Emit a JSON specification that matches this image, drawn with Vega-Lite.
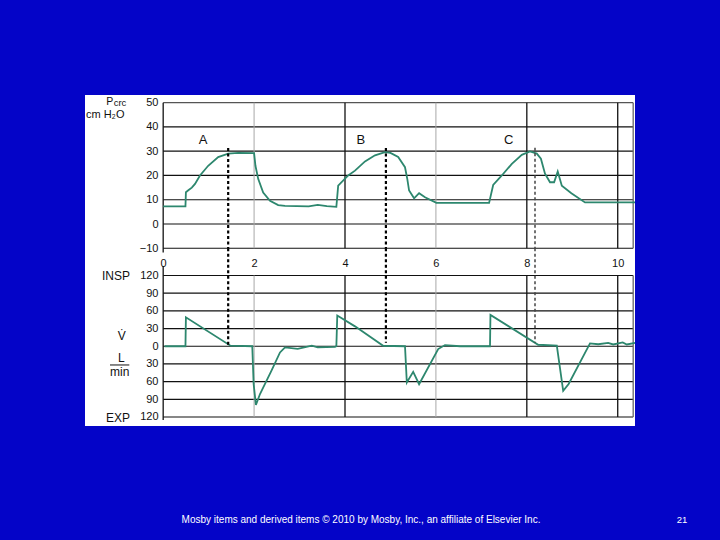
{
  "$schema": "https://vega.github.io/schema/vega-lite/v6.json",
  "width": 550,
  "height": 331,
  "autosize": {"type": "none"},
  "padding": {"left": 85, "top": 95, "right": 85, "bottom": 114},
  "background": "#0404c8",
  "config": {
    "view": {"fill": "white", "stroke": null},
    "font": "Liberation Sans",
    "text": {"font": "Liberation Sans"}
  },
  "datasets": {
    "pGridH": [
      {"t": 0, "t2": 10.34, "v": 50}, {"t": 0, "t2": 10.34, "v": 40}, {"t": 0, "t2": 10.34, "v": 30},
      {"t": 0, "t2": 10.34, "v": 20}, {"t": 0, "t2": 10.34, "v": 10}, {"t": 0, "t2": 10.34, "v": 0},
      {"t": 0, "t2": 10.34, "v": -10}
    ],
    "pGridV": [
      {"t": 0, "v": -11.7, "v2": 50}, {"t": 2, "v": -10, "v2": 50}, {"t": 4, "v": -10, "v2": 50},
      {"t": 6, "v": -10, "v2": 50}, {"t": 8, "v": -10, "v2": 50}, {"t": 10, "v": -10, "v2": 50},
      {"t": 10.34, "v": -10, "v2": 50}
    ],
    "pressure": [
      {"t": 0, "v": 7.3}, {"t": 0.49, "v": 7.3}, {"t": 0.5, "v": 13.1}, {"t": 0.56, "v": 14},
      {"t": 0.63, "v": 15}, {"t": 0.7, "v": 16.5}, {"t": 0.81, "v": 20}, {"t": 0.99, "v": 24},
      {"t": 1.21, "v": 27.6}, {"t": 1.43, "v": 29}, {"t": 1.65, "v": 29.3}, {"t": 2.0, "v": 29.2},
      {"t": 2.03, "v": 24}, {"t": 2.09, "v": 18.6}, {"t": 2.2, "v": 13}, {"t": 2.35, "v": 9.6},
      {"t": 2.53, "v": 7.8}, {"t": 2.68, "v": 7.5}, {"t": 3.2, "v": 7.3}, {"t": 3.4, "v": 7.9},
      {"t": 3.6, "v": 7.4}, {"t": 3.81, "v": 7.1}, {"t": 3.85, "v": 15.8}, {"t": 4.07, "v": 20},
      {"t": 4.22, "v": 22}, {"t": 4.44, "v": 25.8}, {"t": 4.66, "v": 28.3}, {"t": 4.88, "v": 29.6},
      {"t": 5.0, "v": 29.3}, {"t": 5.17, "v": 27.6}, {"t": 5.32, "v": 23.4}, {"t": 5.37, "v": 18.6},
      {"t": 5.41, "v": 13.8}, {"t": 5.52, "v": 10.6}, {"t": 5.63, "v": 12.7}, {"t": 5.76, "v": 11},
      {"t": 6.01, "v": 8.7}, {"t": 7.17, "v": 8.7}, {"t": 7.26, "v": 16.1}, {"t": 7.45, "v": 20},
      {"t": 7.67, "v": 24.8}, {"t": 7.89, "v": 28.5}, {"t": 8.07, "v": 29.9}, {"t": 8.22, "v": 29},
      {"t": 8.31, "v": 26.9}, {"t": 8.4, "v": 20.7}, {"t": 8.51, "v": 17.2}, {"t": 8.6, "v": 17.2},
      {"t": 8.68, "v": 21.6}, {"t": 8.77, "v": 15.8}, {"t": 8.98, "v": 12.7}, {"t": 9.28, "v": 8.9},
      {"t": 10.38, "v": 8.9}
    ],
    "pDash": [
      {"t": 1.43, "v": 31.3, "v2": -10}, {"t": 4.9, "v": 31.3, "v2": -10}, {"t": 8.18, "v": 31.4, "v2": -10}
    ],
    "letters": [
      {"t": 0.876, "v": 32.8, "label": "A"}, {"t": 4.35, "v": 32.8, "label": "B"}, {"t": 7.6, "v": 32.8, "label": "C"}
    ],
    "pLabel": [{"t": -1.25, "v": 49.2, "label": "P"}],
    "pSub": [{"t": -1.09, "v": 48.6, "label": "crc"}],
    "pUnit": [{"t": -1.699, "v": 43.5, "label": "cm H₂O"}],
    "footer": [
      {"t": 4.352, "v": -123.3, "label": "Mosby items and derived items © 2010 by Mosby, Inc., an affiliate of Elsevier Inc."}
    ],
    "pageNo": [
      {"t": 11.415, "v": -123.3, "label": "21"}
    ],
    "fGridH": [
      {"t": 0, "t2": 10.34, "v": 120}, {"t": 0, "t2": 10.34, "v": 90}, {"t": 0, "t2": 10.34, "v": 60},
      {"t": 0, "t2": 10.34, "v": 30}, {"t": 0, "t2": 10.34, "v": 0}, {"t": 0, "t2": 10.34, "v": -30},
      {"t": 0, "t2": 10.34, "v": -60}, {"t": 0, "t2": 10.34, "v": -90}, {"t": 0, "t2": 10.34, "v": -120}
    ],
    "fGridV": [
      {"t": 0, "v": -125, "v2": 136}, {"t": 2, "v": -120, "v2": 120}, {"t": 4, "v": -120, "v2": 120},
      {"t": 6, "v": -120, "v2": 120}, {"t": 8, "v": -120, "v2": 120}, {"t": 10, "v": -120, "v2": 120},
      {"t": 10.34, "v": -120, "v2": 120}
    ],
    "flow": [
      {"t": 0.03, "v": 0}, {"t": 0.49, "v": 0}, {"t": 0.5, "v": 49}, {"t": 1.48, "v": 1},
      {"t": 1.96, "v": 0}, {"t": 1.99, "v": -64}, {"t": 2.04, "v": -99.6}, {"t": 2.13, "v": -81},
      {"t": 2.38, "v": -41.7}, {"t": 2.57, "v": -10.5}, {"t": 2.68, "v": -2}, {"t": 2.96, "v": -4.6},
      {"t": 3.27, "v": 1}, {"t": 3.4, "v": -2}, {"t": 3.78, "v": -1}, {"t": 3.81, "v": 0},
      {"t": 3.83, "v": 52}, {"t": 4.22, "v": 33.7}, {"t": 4.84, "v": 0.8}, {"t": 5.32, "v": 0},
      {"t": 5.36, "v": -61.6}, {"t": 5.5, "v": -43.4}, {"t": 5.63, "v": -64.4}, {"t": 6.05, "v": -4.8},
      {"t": 6.2, "v": 2}, {"t": 6.53, "v": 0}, {"t": 7.19, "v": 0}, {"t": 7.2, "v": 53},
      {"t": 8.25, "v": 2.5}, {"t": 8.66, "v": 1}, {"t": 8.8, "v": -75.7}, {"t": 8.92, "v": -64},
      {"t": 9.39, "v": 4.8}, {"t": 9.57, "v": 3.4}, {"t": 9.79, "v": 5.7}, {"t": 9.9, "v": 3},
      {"t": 10.11, "v": 6.6}, {"t": 10.2, "v": 3}, {"t": 10.38, "v": 5.7}
    ],
    "fDash": [
      {"t": 1.43, "v": 166, "v2": 0}, {"t": 4.9, "v": 166, "v2": 6}, {"t": 8.18, "v": 166, "v2": 6}
    ],
    "fSide": [
      {"t": -0.73, "v": 112.4, "label": "INSP"}, {"t": -0.73, "v": -128, "label": "EXP"}
    ],
    "fUnit": [
      {"t": -0.911, "v": 10.6, "label": "V̇"}, {"t": -0.922, "v": -26.2, "label": "L"}, {"t": -0.957, "v": -50, "label": "min"}
    ],
    "fBar": [{"t": -1.17, "t2": -0.745, "v": -31.8}]
  },
  "layer": [
    {
      "encoding": {
        "x": {"field": "t", "type": "quantitative",
              "scale": {"domain": [-1.72, 10.38], "nice": false, "zero": false},
              "axis": {"orient": "bottom", "offset": -171, "values": [0, 2, 4, 6, 8, 10], "domain": false, "ticks": false, "grid": false,
                       "labelPadding": 2, "labelFontSize": 11, "labelColor": "#111", "labelFlush": false, "title": null, "labelFont": "Liberation Sans"}},
        "y": {"field": "v", "type": "quantitative",
              "scale": {"domain": [-83.24, 53.16], "nice": false, "zero": false},
              "axis": {"orient": "left", "offset": -78, "values": [-10, 0, 10, 20, 30, 40, 50],
                       "labelExpr": "datum.value < 0 ? '−' + abs(datum.value) : datum.label",
                       "domain": false, "ticks": false, "grid": false, "labelPadding": 5, "labelFontSize": 11,
                       "labelColor": "#111", "title": null, "labelOverlap": false, "labelFont": "Liberation Sans"}}
      },
      "layer": [
        {
          "data": {"name": "pGridH"},
          "mark": {"type": "rule", "strokeWidth": 1.2},
          "encoding": {
            "x2": {"field": "t2"},
            "color": {"condition": {"test": "datum.v == 50", "value": "#555"}, "value": "#111"}
          }
        },
        {
          "data": {"name": "pGridV"},
          "mark": {"type": "rule"},
          "encoding": {
            "y2": {"field": "v2"},
            "color": {"condition": [{"test": "datum.t == 2 || datum.t == 6", "value": "#a8a8a8"}, {"test": "datum.t > 10.1", "value": "#666"}], "value": "#111"},
            "strokeWidth": {"condition": {"test": "datum.t == 2 || datum.t == 6", "value": 1}, "value": 1.3}
          }
        },
        {
          "data": {"name": "pressure"},
          "mark": {"type": "line", "color": "#2d876e", "strokeWidth": 1.8},
          "encoding": {}
        },
        {
          "data": {"name": "pDash"},
          "mark": {"type": "rule", "strokeDash": [3, 2.5]},
          "encoding": {
            "y2": {"field": "v2"},
            "color": {"condition": {"test": "datum.t > 8", "value": "#444"}, "value": "#000"},
            "strokeWidth": {"condition": {"test": "datum.t > 8", "value": 1.5}, "value": 2.2}
          }
        },
        {
          "data": {"name": "letters"},
          "mark": {"type": "text", "fontSize": 13, "align": "center", "baseline": "alphabetic", "color": "#111"},
          "encoding": {"text": {"field": "label"}}
        },
        {
          "data": {"name": "pLabel"},
          "mark": {"type": "text", "fontSize": 10.5, "align": "left", "baseline": "alphabetic", "color": "#111"},
          "encoding": {"text": {"field": "label"}}
        },
        {
          "data": {"name": "pSub"},
          "mark": {"type": "text", "fontSize": 9.5, "align": "left", "baseline": "alphabetic", "color": "#111"},
          "encoding": {"text": {"field": "label"}}
        },
        {
          "data": {"name": "pUnit"},
          "mark": {"type": "text", "fontSize": 11, "align": "left", "baseline": "alphabetic", "color": "#111"},
          "encoding": {"text": {"field": "label"}}
        },
        {
          "data": {"name": "footer"},
          "mark": {"type": "text", "fontSize": 10, "align": "center", "baseline": "alphabetic", "color": "white"},
          "encoding": {"text": {"field": "label"}}
        },
        {
          "data": {"name": "pageNo"},
          "mark": {"type": "text", "fontSize": 9.5, "align": "center", "baseline": "alphabetic", "color": "white"},
          "encoding": {"text": {"field": "label"}}
        }
      ]
    },
    {
      "encoding": {
        "x": {"field": "t", "type": "quantitative",
              "scale": {"domain": [-1.72, 10.38], "nice": false, "zero": false},
              "axis": {"orient": "bottom", "offset": -171, "values": [0, 2, 4, 6, 8, 10], "domain": false, "ticks": false, "grid": false,
                       "labelPadding": 2, "labelFontSize": 11, "labelColor": "#111", "labelFlush": false, "title": null, "labelFont": "Liberation Sans"}},
        "y": {"field": "v", "type": "quantitative",
              "scale": {"domain": [-135.3, 426.1], "nice": false, "zero": false},
              "axis": {"orient": "left", "offset": -78, "values": [-120, -90, -60, -30, 0, 30, 60, 90, 120],
                       "labelExpr": "'' + abs(datum.value)",
                       "domain": false, "ticks": false, "grid": false, "labelPadding": 5, "labelFontSize": 11,
                       "labelColor": "#111", "title": null, "labelOverlap": false, "labelFont": "Liberation Sans"}}
      },
      "layer": [
        {
          "data": {"name": "fGridH"},
          "mark": {"type": "rule", "strokeWidth": 1.2, "color": "#111"},
          "encoding": {"x2": {"field": "t2"}}
        },
        {
          "data": {"name": "fGridV"},
          "mark": {"type": "rule"},
          "encoding": {
            "y2": {"field": "v2"},
            "color": {"condition": [{"test": "datum.t == 2 || datum.t == 6", "value": "#a8a8a8"}, {"test": "datum.t > 10.1", "value": "#666"}], "value": "#111"},
            "strokeWidth": {"condition": {"test": "datum.t == 2 || datum.t == 6", "value": 1}, "value": 1.3}
          }
        },
        {
          "data": {"name": "flow"},
          "mark": {"type": "line", "color": "#2d876e", "strokeWidth": 1.8},
          "encoding": {}
        },
        {
          "data": {"name": "fDash"},
          "mark": {"type": "rule", "strokeDash": [3, 2.5]},
          "encoding": {
            "y2": {"field": "v2"},
            "color": {"condition": {"test": "datum.t > 8", "value": "#444"}, "value": "#000"},
            "strokeWidth": {"condition": {"test": "datum.t > 8", "value": 1.5}, "value": 2.2}
          }
        },
        {
          "data": {"name": "fSide"},
          "mark": {"type": "text", "fontSize": 12, "align": "right", "baseline": "alphabetic", "color": "#111"},
          "encoding": {"text": {"field": "label"}}
        },
        {
          "data": {"name": "fUnit"},
          "mark": {"type": "text", "fontSize": 12, "align": "center", "baseline": "alphabetic", "color": "#111"},
          "encoding": {"text": {"field": "label"}}
        },
        {
          "data": {"name": "fBar"},
          "mark": {"type": "rule", "color": "#111", "strokeWidth": 1},
          "encoding": {"x2": {"field": "t2"}}
        }
      ]
    }
  ],
  "resolve": {"scale": {"y": "independent"}, "axis": {"y": "independent"}}
}
